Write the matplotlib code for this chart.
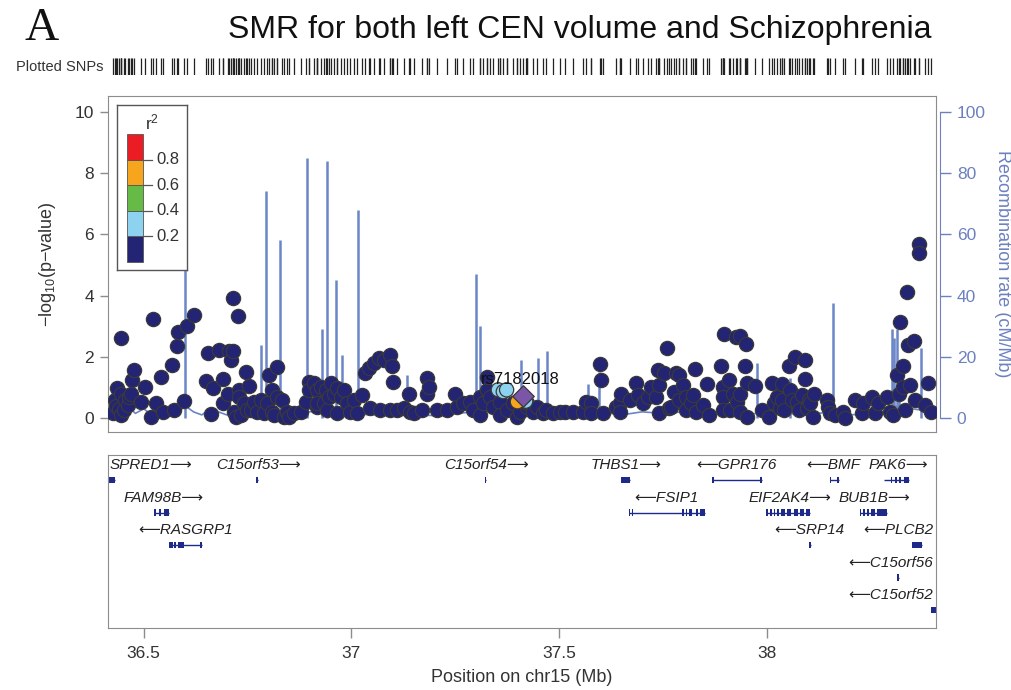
import numpy as np
import matplotlib
matplotlib.use("Agg")
from matplotlib import pyplot as plt

plt.rcParams["font.family"] = ["Liberation Sans", "DejaVu Sans"]
plt.rcParams["mathtext.fontset"] = "custom"
plt.rcParams["mathtext.rm"] = "Liberation Sans"
plt.rcParams["mathtext.it"] = "Liberation Sans:italic"

title = "SMR for both left CEN volume and Schizophrenia"
panel_letter = "A"

# SNPs with r2 < 0.2 (navy)
snp_mb = [36.426, 36.430, 36.434, 36.435, 36.440, 36.445, 36.445, 36.445, 36.452, 36.454,
          36.462, 36.465, 36.470, 36.473, 36.477, 36.494, 36.502, 36.518, 36.522, 36.530,
          36.541, 36.546, 36.569, 36.574, 36.581, 36.582, 36.598, 36.605, 36.621, 36.650,
          36.654, 36.662, 36.666, 36.682, 36.690, 36.690, 36.702, 36.706, 36.710, 36.714,
          36.714, 36.718, 36.722, 36.726, 36.730, 36.730, 36.734, 36.742, 36.746, 36.750,
          36.754, 36.758, 36.766, 36.774, 36.782, 36.790, 36.798, 36.802, 36.810, 36.810,
          36.814, 36.822, 36.822, 36.834, 36.838, 36.846, 36.850, 36.862, 36.878, 36.890,
          36.898, 36.898, 36.910, 36.918, 36.918, 36.918, 36.926, 36.934, 36.938, 36.942,
          36.946, 36.950, 36.958, 36.966, 36.966, 36.974, 36.982, 36.990, 36.998, 37.006,
          37.014, 37.026, 37.034, 37.042, 37.046, 37.054, 37.066, 37.070, 37.078, 37.094,
          37.094, 37.098, 37.101, 37.110, 37.126, 37.140, 37.142, 37.150, 37.170, 37.182,
          37.182, 37.186, 37.206, 37.230, 37.250, 37.254, 37.270, 37.286, 37.294, 37.310,
          37.310, 37.318, 37.326, 37.326, 37.334, 37.342, 37.358, 37.358, 37.374, 37.390,
          37.398, 37.406, 37.422, 37.422, 37.438, 37.446, 37.462, 37.470, 37.486, 37.502,
          37.514, 37.534, 37.558, 37.566, 37.578, 37.578, 37.599, 37.602, 37.606, 37.638,
          37.646, 37.646, 37.650, 37.670, 37.686, 37.690, 37.702, 37.714, 37.722, 37.734,
          37.738, 37.742, 37.742, 37.754, 37.761, 37.766, 37.770, 37.778, 37.782, 37.790,
          37.790, 37.798, 37.806, 37.806, 37.818, 37.822, 37.828, 37.830, 37.846, 37.856,
          37.862, 37.891, 37.894, 37.894, 37.894, 37.898, 37.910, 37.913, 37.918, 37.926,
          37.929, 37.935, 37.937, 37.937, 37.949, 37.951, 37.953, 37.953, 37.973, 37.989,
          38.005, 38.013, 38.017, 38.025, 38.033, 38.037, 38.037, 38.041, 38.053, 38.057,
          38.061, 38.069, 38.073, 38.077, 38.085, 38.093, 38.093, 38.097, 38.101, 38.105,
          38.113, 38.115, 38.145, 38.149, 38.153, 38.165, 38.185, 38.189, 38.213, 38.229,
          38.233, 38.253, 38.261, 38.269, 38.289, 38.297, 38.305, 38.313, 38.320, 38.321,
          38.329, 38.329, 38.333, 38.337, 38.341, 38.345, 38.355, 38.357, 38.367, 38.367,
          38.381, 38.389, 38.395]
snp_logp = [0.17, 0.60, 0.40, 0.97, 0.30, 0.80, 0.10, 2.61, 0.25, 0.59,
            0.42, 0.70, 0.80, 1.24, 1.57, 0.51, 1.02, 0.04, 3.22, 0.48,
            1.35, 0.21, 1.74, 0.26, 2.35, 2.82, 0.56, 2.99, 3.37, 1.21,
            2.11, 0.12, 0.97, 2.22, 1.27, 0.48, 0.77, 2.20, 1.90, 2.20,
            3.91, 0.21, 0.04, 3.33, 0.92, 0.70, 0.10, 0.49, 1.51, 0.26,
            1.05, 0.26, 0.53, 0.21, 0.59, 0.15, 0.48, 1.41, 0.92, 0.21,
            0.10, 1.66, 0.70, 0.59, 0.04, 0.21, 0.04, 0.15, 0.21, 0.53,
            1.19, 0.92, 1.13, 0.92, 0.37, 0.48, 1.02, 0.48, 0.92, 0.26,
            0.70, 1.13, 0.80, 0.15, 0.97, 0.70, 0.92, 0.48, 0.21, 0.59,
            0.15, 0.75, 1.46, 1.62, 0.32, 1.79, 1.95, 0.26, 1.90, 2.06,
            0.26, 1.70, 1.19, 0.26, 0.32, 0.80, 0.21, 0.15, 0.26, 1.30,
            0.80, 1.02, 0.26, 0.26, 0.77, 0.37, 0.48, 0.53, 0.26, 0.70,
            0.10, 0.48, 0.92, 1.35, 0.70, 0.37, 0.53, 0.10, 0.26, 0.48,
            0.04, 0.21, 0.37, 0.48, 0.21, 0.37, 0.15, 0.26, 0.15, 0.21,
            0.21, 0.21, 0.21, 0.53, 0.48, 0.15, 1.75, 1.24, 0.15, 0.37,
            0.48, 0.21, 0.80, 0.59, 1.13, 0.75, 0.48, 0.70, 1.02, 0.70,
            1.57, 1.08, 0.15, 1.46, 2.28, 0.32, 0.37, 0.86, 1.46, 1.41,
            0.59, 1.08, 0.26, 0.70, 0.48, 0.75, 1.59, 0.21, 0.43, 1.10,
            0.10, 1.69, 1.02, 0.70, 0.26, 2.73, 1.24, 0.26, 0.80, 2.64,
            0.53, 2.67, 0.80, 0.21, 1.70, 2.41, 1.13, 0.04, 1.06, 0.26,
            0.04, 1.13, 0.48, 0.70, 0.32, 1.11, 0.59, 0.26, 1.70, 0.92,
            0.59, 1.98, 0.53, 0.26, 0.75, 1.90, 1.26, 0.32, 0.59, 0.48,
            0.04, 0.80, 0.59, 0.37, 0.15, 0.10, 0.21, 0.00, 0.59, 0.15,
            0.48, 0.70, 0.15, 0.48, 0.70, 0.21, 0.10, 1.41, 0.80, 3.15,
            1.69, 1.02, 0.26, 4.11, 2.39, 1.08, 2.52, 0.59, 5.69, 5.38,
            0.42, 1.13, 0.21]

# SNPs in LD with the lead SNP
ld_mb = [37.354, 37.366, 37.374, 37.420, 37.400]
ld_logp = [0.92, 0.86, 0.92, 0.55, 0.53]
ld_r2 = [0.3, 0.3, 0.3, 0.3, 0.7]

lead_mb = 37.414
lead_logp = 0.72
lead_name = "rs7182018"

# recombination rate (cM/Mb): background and narrow peaks
recomb_mb = [36.414, 36.43, 36.44, 36.46, 36.48, 36.50, 36.52, 36.55, 36.58, 36.60,
             36.62, 36.64, 36.66, 36.70, 36.75, 36.80, 36.85, 36.90, 36.95, 37.00,
             37.05, 37.10, 37.15, 37.20, 37.25, 37.30, 37.35, 37.40, 37.45, 37.50,
             37.55, 37.60, 37.65, 37.70, 37.75, 37.80, 37.85, 37.90, 37.95, 38.00,
             38.05, 38.10, 38.15, 38.20, 38.25, 38.30, 38.35, 38.408]
recomb_rate = [3, 5, 2, 4, 1.5, 3, 1, 2, 1.5, 4,
               2, 1, 3, 1, 1.5, 2, 1, 2, 3, 1.5,
               1, 2, 1, 0.8, 1.5, 2, 3, 2, 1, 0.8,
               1, 2, 1, 2, 1.5, 2, 1, 1.5, 1, 2,
               1.5, 1, 2, 1, 1.5, 4, 3, 2]
peak_mb = [36.599, 36.783, 36.795, 36.829, 36.893, 36.929, 36.941, 36.963, 36.977, 37.016,
           37.133, 37.301, 37.311, 37.409, 37.450, 37.471, 37.570, 37.596, 37.977, 38.056,
           38.159, 38.303, 38.308, 38.313, 38.318, 38.373]
peak_rate = [57, 24, 74, 58, 85, 29, 84, 45, 20.5, 68,
             14, 47, 30, 19, 19.5, 22, 11, 15, 18, 13,
             37.5, 29, 26, 29, 12, 23]

# genes: row, start, end, exons, label, label centre
gene_names = ["SPRED1", "C15orf53", "C15orf54", "THBS1", "GPR176", "BMF", "PAK6",
              "FAM98B", "FSIP1", "EIF2AK4", "BUB1B",
              "RASGRP1", "SRP14", "PLCB2", "C15orf56", "C15orf52"]
gene_strand = ["+", "+", "+", "+", "-", "-", "+",
               "+", "-", "+", "+",
               "-", "-", "-", "-", "-"]
gene_row = [0, 0, 0, 0, 0, 0, 0, 1, 1, 1, 1, 2, 2, 2, 3, 4]
gene_start = [36.40, 36.770, 37.321, 37.649, 37.869, 38.152, 38.282,
              36.526, 37.668, 37.999, 38.224,
              36.562, 38.102, 38.351, 38.315, 38.397]
gene_end = [36.431, 36.775, 37.325, 37.670, 37.989, 38.175, 38.344,
            36.562, 37.852, 38.105, 38.289,
            36.641, 38.107, 38.375, 38.319, 38.42]
gene_exons = [
    [(36.40, 36.431)],
    [(36.770, 36.775)],
    [(37.321, 37.325)],
    [(37.649, 37.670)],
    [(37.869, 37.873), (37.985, 37.989)],
    [(38.152, 38.156), (38.170, 38.175)],
    [(38.282, 38.284), (38.300, 38.303), (38.310, 38.313), (38.320, 38.324), (38.330, 38.344)],
    [(36.526, 36.530), (36.538, 36.542), (36.550, 36.562)],
    [(37.668, 37.671), (37.676, 37.678), (37.797, 37.800), (37.806, 37.809), (37.814, 37.820),
     (37.831, 37.834), (37.840, 37.852)],
    [(37.999, 38.003), (38.008, 38.012), (38.017, 38.021), (38.026, 38.030), (38.035, 38.045),
     (38.050, 38.060), (38.065, 38.075), (38.080, 38.090), (38.095, 38.105)],
    [(38.224, 38.228), (38.233, 38.237), (38.242, 38.246), (38.252, 38.262), (38.267, 38.289)],
    [(36.562, 36.570), (36.573, 36.579), (36.582, 36.598), (36.636, 36.641)],
    [(38.102, 38.107)],
    [(38.351, 38.375)],
    [(38.315, 38.319)],
    [(38.397, 38.42)],
]
label_mb = [36.518, 36.776, 37.326, 37.663, 37.927, 38.161, 38.317,
            36.548, 37.758, 38.056, 38.260,
            36.600, 38.102, 38.318, 38.299, 38.299]

r2_edges = [0.0, 0.2, 0.4, 0.6, 0.8, 1.0]
r2_colors = ["#232473", "#8DD3F0", "#66BB46", "#F7A51C", "#EC1C24"]
x_ticks = [36.5, 37.0, 37.5, 38.0]
x_ticklabels = ["36.5", "37", "37.5", "38"]

navy = "#232473"
rec_blue = "#6A86C8"
axis_blue = "#6C80C0"
box_gray = "#8C8C8C"
text_gray = "#333333"
xlim = (36.414, 38.408)


def r2_color(v):
	for i in range(len(r2_colors)):
		if r2_edges[i] <= v < r2_edges[i + 1]:
			return r2_colors[i]
	return r2_colors[-1]


fig = plt.figure(figsize=(10.11, 6.90), dpi=100)

# main association panel
ax = fig.add_axes([0.1068, 0.3739, 0.819, 0.487])
ax.set_xlim(*xlim)
ax.set_ylim(-0.458, 10.52)
ax.plot(recomb_mb, np.array(recomb_rate) / 10.0, color=rec_blue, lw=1.2, zorder=1)
ax.vlines(peak_mb, 0, np.array(peak_rate) / 10.0, color=rec_blue, lw=1.8, zorder=1)
ax.scatter(snp_mb, snp_logp, s=105, c=navy, edgecolors="#3a3a3a", linewidths=0.9, zorder=3)
ax.scatter(ld_mb, ld_logp, s=105, c=[r2_color(v) for v in ld_r2], edgecolors="#3a3a3a",
           linewidths=0.9, zorder=4)
ax.scatter([lead_mb], [lead_logp], s=120, marker="D", c="#7B55A8", edgecolors="#3a3a3a",
           linewidths=0.9, zorder=5)
ax.text(lead_mb - 0.007, lead_logp + 0.55, lead_name, ha="center", va="center", fontsize=12,
        color="#111111", zorder=6)
ax.set_xticks([])
ax.set_yticks([0, 2, 4, 6, 8, 10])
ax.tick_params(axis="y", length=6, width=1, colors=box_gray, labelcolor=text_gray, labelsize=12.5,
               pad=4)
for s in ax.spines.values():
	s.set_color(box_gray)
ax.set_ylabel(r"$-$log$_{10}$(p$-$value)", fontsize=13, color=text_gray, labelpad=12)

ax2 = ax.twinx()
ax2.set_ylim(-4.58, 105.2)
ax2.set_yticks([0, 20, 40, 60, 80, 100])
for name in ["left", "top", "bottom"]:
	ax2.spines[name].set_visible(False)
ax2.spines["right"].set_color(axis_blue)
ax2.spines["right"].set_bounds(0, 100)
ax2.spines["right"].set_position(("outward", 3))
ax2.tick_params(axis="y", length=8, width=1, colors=axis_blue, labelcolor=axis_blue,
                labelsize=12.5, pad=4)
ax2.set_ylabel("Recombination rate (cM/Mb)", fontsize=13, color=axis_blue, rotation=270,
               labelpad=18)

# r2 legend
axl = fig.add_axes([0.1157, 0.6087, 0.0692, 0.2391])
axl.set_xlim(0, 1)
axl.set_ylim(-0.0619, 1.2268)
for i in range(len(r2_colors)):
	axl.bar(0.257, r2_edges[i + 1] - r2_edges[i], bottom=r2_edges[i], width=0.228,
	        color=r2_colors[i], edgecolor="#555555", linewidth=0.6)
for e in r2_edges[1:-1]:
	axl.plot([0.371, 0.5], [e, e], color="#555555", lw=0.9)
	axl.text(0.57, e, "{0:.1f}".format(e), ha="left", va="center", fontsize=12, color=text_gray)
axl.text(0.5, 0.895, r"r$^2$", transform=axl.transAxes, ha="center", va="center", fontsize=12.5,
         color=text_gray)
axl.set_xticks([])
axl.set_yticks([])
for s in axl.spines.values():
	s.set_color("#555555")
	s.set_linewidth(1.0)

# plotted SNPs rug
axr = fig.add_axes([0.1068, 0.8913, 0.819, 0.0246])
axr.set_xlim(*xlim)
axr.set_ylim(0, 1)
axr.vlines(sorted(snp_mb + ld_mb + [lead_mb]), 0, 1, color="#222222", lw=0.9)
axr.axis("off")
axr.text(-0.006, 0.5, "Plotted SNPs", transform=axr.transAxes, ha="right", va="center",
         fontsize=10.5, color=text_gray)

# gene panel
axg = fig.add_axes([0.1068, 0.0899, 0.819, 0.2507])
axg.set_xlim(*xlim)
axg.set_ylim(-4.55, 0.77)
for i in range(len(gene_names)):
	y = -gene_row[i]
	axg.plot([gene_start[i], gene_end[i]], [y, y], color="#1E2A8A", lw=1.0, solid_capstyle="butt")
	axg.broken_barh([(a, b - a) for a, b in gene_exons[i]], (y - 0.1, 0.2), facecolors="#1E2A8A")
	if gene_strand[i] == "+":
		lab = gene_names[i] + "\u27f6"
	else:
		lab = "\u27f5" + gene_names[i]
	axg.text(label_mb[i], y + 0.46, lab, ha="center", va="center", fontsize=11, style="italic",
	         color="#222222", family=["Liberation Sans", "DejaVu Sans"])
axg.set_yticks([])
axg.set_xticks(x_ticks)
axg.set_xticklabels(x_ticklabels)
axg.tick_params(axis="x", length=7, width=1, colors=box_gray, labelcolor=text_gray,
                labelsize=12.5, pad=6)
for s in axg.spines.values():
	s.set_color(box_gray)
axg.set_xlabel("Position on chr15 (Mb)", fontsize=13, color=text_gray, labelpad=6)

fig.text(0.573, 0.956, title, ha="center", va="center", fontsize=23, color="#111111")
fig.text(0.0415, 0.958, panel_letter, ha="center", va="center", fontsize=34,
         family="Liberation Serif", color="#111111")

fig.savefig("out.png", dpi=100)
